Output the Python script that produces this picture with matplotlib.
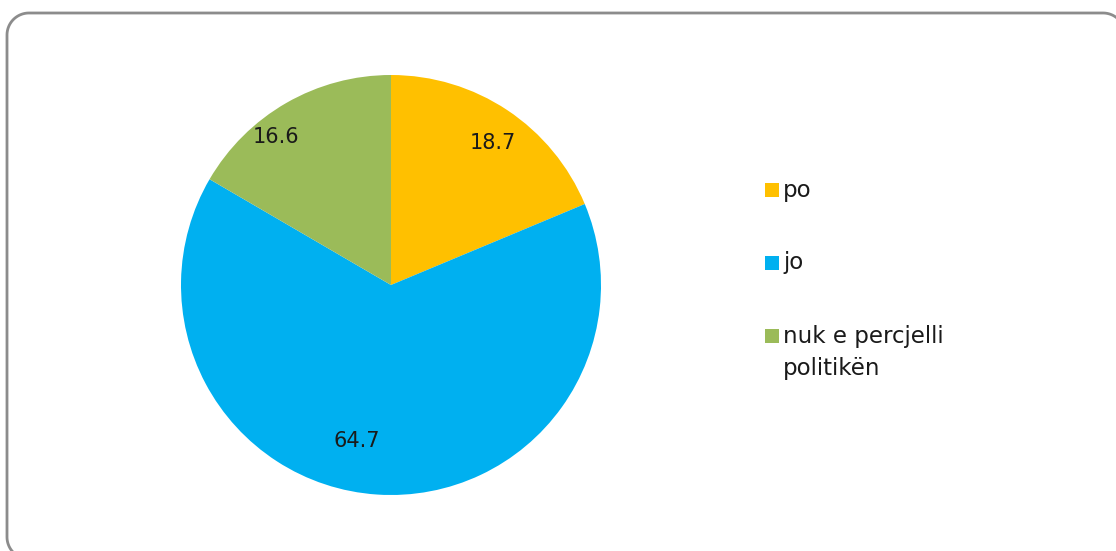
import numpy as np
import matplotlib.pyplot as plt
from matplotlib.patches import Rectangle

labels = ['po', 'jo', 'nuk e percjelli\npolitikën']
values = [18.7, 64.7, 16.6]
colors = ['#FFC000', '#00B0F0', '#9BBB59']

W, H = 1116, 551
plt.rcParams['font.family'] = ['DejaVu Sans']
fig = plt.figure(figsize=(W / 100, H / 100), dpi=100)


def rounded_rect(x0, y0, x1, y1, rad, n=30):
    # outline of a rounded rectangle, corners as circular arcs
    pts = []
    corners = [(x1 - rad, y1 - rad, 0), (x0 + rad, y1 - rad, 90),
               (x0 + rad, y0 + rad, 180), (x1 - rad, y0 + rad, 270)]
    for ccx, ccy, a0 in corners:
        t = np.deg2rad(np.linspace(a0, a0 + 90, n))
        pts.append(np.c_[ccx + rad * np.cos(t), ccy + rad * np.sin(t)])
    pts = np.vstack(pts + [pts[0][:1]])
    return pts[:, 0], pts[:, 1]


# background axes in pixel units (y up) for the rounded frame and legend
bg = fig.add_axes([0, 0, 1, 1])
bg.set_xlim(0, W)
bg.set_ylim(0, H)
bg.axis('off')
fx, fy = rounded_rect(7, -8, 1125, H - 13, 22)
bg.plot(fx, fy, color='#8c8c8c', linewidth=2)

cx, cy, r = 391, 285, 210
ax = fig.add_axes([(cx - r) / W, (H - cy - r) / H, 2 * r / W, 2 * r / H])
wedges, _ = ax.pie(values, colors=colors, startangle=90, counterclock=False,
                   radius=1, wedgeprops=dict(linewidth=0))
ax.set_xlim(-1, 1)
ax.set_ylim(-1, 1)
ax.set_aspect('equal')
ax.axis('off')

# data label placement (distance from centre, angle shift in degrees)
dist = [0.83, 0.76, 0.89]
shift = [-2, -8.5, 8]
for w, v, d, s in zip(wedges, values, dist, shift):
    ang = np.deg2rad((w.theta1 + w.theta2) / 2 + s)
    ax.text(d * np.cos(ang), d * np.sin(ang), f'{v:.1f}', ha='center',
            va='center', fontsize=15, color='#1a1a1a')

# legend
ys = [190, 263, 336]
for lab, col, y in zip(labels, colors, ys):
    bg.add_patch(Rectangle((765, H - y - 7), 14, 14, color=col, linewidth=0))
    for k, line in enumerate(lab.split('\n')):
        bg.text(783, H - y - 33 * k, line, ha='left', va='center',
                fontsize=16.5, color='#1a1a1a')

fig.savefig('out.png', dpi=100)
